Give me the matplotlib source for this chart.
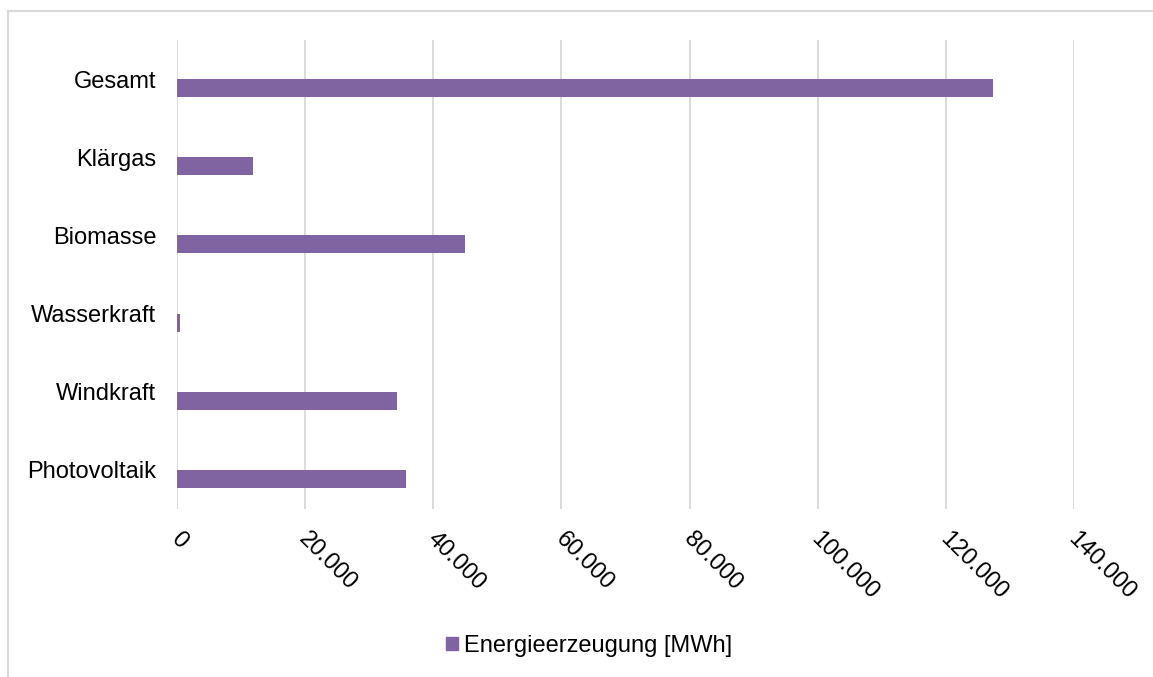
import matplotlib.pyplot as plt
import matplotlib.transforms as mtransforms
from matplotlib.lines import Line2D
from matplotlib.patches import Patch
from matplotlib.ticker import FuncFormatter

plt.rcParams['font.family'] = ['Liberation Sans', 'DejaVu Sans']

categories = ["Photovoltaik", "Windkraft", "Wasserkraft", "Biomasse", "Klärgas", "Gesamt"]
values = [35800, 34300, 400, 45000, 11800, 127300]
series_name = "Energieerzeugung [MWh]"
xticks = [0, 20000, 40000, 60000, 80000, 100000, 120000, 140000]

bar_color = "#8064A2"
grid_color = "#D9D9D9"

fig = plt.figure(figsize=(11.53, 6.77), dpi=100)
ax = fig.add_axes([0.1535, 0.2482, 0.778, 0.6927])

# bars sit just below the category centre (empty second series in the original)
pos = list(range(len(categories)))
bar_h = 0.23
ax.barh([p - bar_h / 2 for p in pos], values, height=bar_h, color=bar_color)

ax.set_xlim(0, 140000)
ax.set_ylim(-0.5, len(categories) - 0.5)
ax.set_xticks(xticks)
ax.xaxis.set_major_formatter(FuncFormatter(lambda v, _: f"{int(v):,}".replace(",", ".")))
ax.set_yticks(pos)
ax.set_yticklabels(categories)

ax.grid(axis='x', color=grid_color, linewidth=1.3)
ax.set_axisbelow(True)
for s in ax.spines.values():
    s.set_visible(False)
ax.tick_params(axis='both', length=0, labelsize=17, colors='black')
ax.tick_params(axis='y', pad=15)
ax.tick_params(axis='x', pad=14)
shift = mtransforms.ScaledTranslation(5 / 100, 0, fig.dpi_scale_trans)
for lbl in ax.get_xticklabels():
    lbl.set_rotation(-45)
    lbl.set_ha('left')
    lbl.set_va('top')
    lbl.set_rotation_mode('anchor')
    lbl.set_transform(lbl.get_transform() + shift)

# chart frame (left and top edges visible)
fig.add_artist(Line2D([8 / 1153, 8 / 1153], [0, 1 - 11 / 677], transform=fig.transFigure,
                      color=grid_color, linewidth=1.5))
fig.add_artist(Line2D([8 / 1153, 1], [1 - 11 / 677, 1 - 11 / 677], transform=fig.transFigure,
                      color=grid_color, linewidth=1.5))

handle = Patch(color=bar_color, label=series_name)
fig.legend(handles=[handle], loc='center', bbox_to_anchor=(589 / 1153, 1 - 646 / 677),
           frameon=False, fontsize=17, handlelength=0.5, handleheight=0.5,
           handletextpad=0.25)

fig.savefig("out.png", dpi=100)
